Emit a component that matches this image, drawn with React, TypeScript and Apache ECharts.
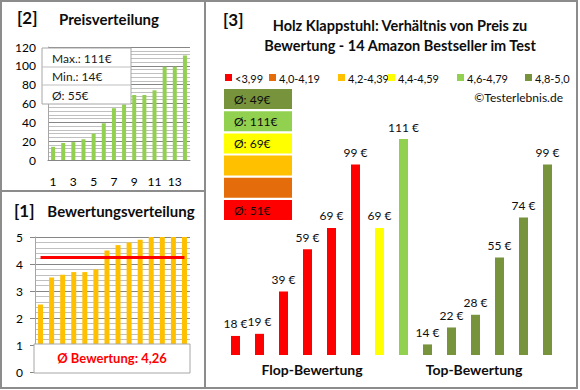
import { useEffect, useRef } from "react";
import * as echarts from "echarts";

// ---- data ----
const priceCategories = ["1", "2", "3", "4", "5", "6", "7", "8", "9", "10", "11", "12", "13", "14"];
const pricesSorted = [14, 18, 19, 22, 28, 39, 55, 59, 69, 69, 74, 99, 99, 111];
const ratingsSorted = [2.5, 3.5, 3.6, 3.7, 3.7, 3.8, 4.5, 4.7, 4.8, 4.9, 5.0, 5.0, 5.0, 5.0];
const mainCategories = ["P1", "P2", "P3", "P4", "P5", "P6", "P7", "P8", "P9", "P10", "P11", "P12", "P13", "P14"];
const mainPrices = [18, 19, 39, 59, 69, 99, 69, 111, 14, 22, 28, 55, 74, 99];
const mainRatings = [2.5, 3.5, 3.6, 3.7, 3.7, 3.8, 4.5, 4.7, 4.8, 4.9, 5.0, 5.0, 5.0, 5.0];
const groupLabels = ["Flop-Bewertung", "Top-Bewertung"];
const bucketLabels = ["<3,99", "4,0-4,19", "4,2-4,39", "4,4-4,59", "4,6-4,79", "4,8-5,0"];
const bucketMins = [0, 4.0, 4.2, 4.4, 4.6, 4.8];
const titleMain = ["Holz Klappstuhl: Verhältnis von Preis zu", "Bewertung - 14 Amazon Bestseller im Test"];

// ---- styles ----
const bucketColors = ["#FF0000", "#E46C0A", "#FFC000", "#FFFF00", "#92D050", "#77933C"];
const FONT = "Lato";

function bucketOf(r: number) {
  let idx = 0;
  for (let i = 0; i < bucketMins.length; i++) if (r >= bucketMins[i]) idx = i;
  return idx;
}

export default function App() {
  const ref = useRef<HTMLDivElement>(null);
  useEffect(() => {
    if (!ref.current) return;
    const chart = echarts.init(ref.current, undefined, { renderer: "svg" });

    const maxP = Math.max(...pricesSorted);
    const minP = Math.min(...pricesSorted);
    const avgP = Math.round(pricesSorted.reduce((a, b) => a + b, 0) / pricesSorted.length);
    const avgR = ratingsSorted.reduce((a, b) => a + b, 0) / ratingsSorted.length;
    const avgRText = avgR.toFixed(2).replace(".", ",");

    // bucket averages
    const bucketSums = bucketLabels.map(() => 0);
    const bucketCounts = bucketLabels.map(() => 0);
    mainRatings.forEach((r, i) => {
      const b = bucketOf(r);
      bucketSums[b] += mainPrices[i];
      bucketCounts[b] += 1;
    });

    const graphics: any[] = [];
    // frame
    graphics.push({ type: "rect", shape: { x: 1, y: 1, width: 576, height: 387 }, style: { fill: "none", stroke: "#8c8c8c", lineWidth: 2 }, z: 200 });
    graphics.push({ type: "line", shape: { x1: 205, y1: 1, x2: 205, y2: 388 }, style: { stroke: "#8c8c8c", lineWidth: 2 }, z: 200 });
    graphics.push({ type: "line", shape: { x1: 1, y1: 191, x2: 205, y2: 191 }, style: { stroke: "#8c8c8c", lineWidth: 2 }, z: 200 });

    // titles
    const titleText = (x: number, y: number, text: string, size: number, align = "left") => ({
      type: "text", x, y, z: 150,
      style: { text, fontFamily: FONT, fontWeight: "bold", fontSize: size, fill: "#0d0d0d", align, verticalAlign: "middle" },
    });
    graphics.push(titleText(17, 17, "[2]", 17));
    graphics.push(titleText(109, 19, "Preisverteilung", 15, "center"));
    graphics.push(titleText(14, 210, "[1]", 17));
    graphics.push(titleText(121, 211, "Bewertungsverteilung", 15, "center"));
    graphics.push(titleText(223, 19, "[3]", 17));
    graphics.push(titleText(400, 25, titleMain[0], 14.5, "center"));
    graphics.push(titleText(400, 45, titleMain[1], 14.5, "center"));

    // price info box
    graphics.push({ type: "rect", z: 150, shape: { x: 42, y: 48, width: 89, height: 56 }, style: { fill: "#fff", stroke: "#a6a6a6", lineWidth: 1 } });
    graphics.push({ type: "line", z: 151, shape: { x1: 42, y1: 67, x2: 131, y2: 67 }, style: { stroke: "#bfbfbf", lineWidth: 1 } });
    graphics.push({ type: "line", z: 151, shape: { x1: 42, y1: 85, x2: 131, y2: 85 }, style: { stroke: "#bfbfbf", lineWidth: 1 } });
    const boxTexts = [`Max.: ${maxP}€`, `Min.: ${minP}€`, `Ø: ${avgP}€`];
    boxTexts.forEach((t, i) => {
      graphics.push({ type: "text", z: 152, x: 52, y: 58 + i * 18.5, style: { text: t, fontFamily: FONT, fontSize: 12, fill: "#1a1a1a", verticalAlign: "middle" } });
    });

    // rating avg box
    graphics.push({ type: "rect", z: 150, shape: { x: 34, y: 344, width: 156, height: 29 }, style: { fill: "#fff", stroke: "#a6a6a6", lineWidth: 1 } });
    graphics.push({ type: "text", z: 152, x: 112, y: 358, style: { text: `Ø Bewertung: ${avgRText}`, fontFamily: FONT, fontSize: 13, fontWeight: "bold", fill: "#FF0000", align: "center", verticalAlign: "middle" } });

    // legend
    const legendX = [225, 269, 338, 388, 457, 525];
    bucketLabels.forEach((l, i) => {
      graphics.push({ type: "rect", z: 150, shape: { x: legendX[i], y: 74, width: 7, height: 7 }, style: { fill: bucketColors[i] } });
      graphics.push({ type: "text", z: 150, x: legendX[i] + 10, y: 78, style: { text: l, fontFamily: FONT, fontSize: 11, fill: "#0d0d0d", verticalAlign: "middle" } });
    });
    graphics.push({ type: "text", z: 150, x: 563, y: 97, style: { text: "©Testerlebnis.de", fontFamily: FONT, fontSize: 12, fill: "#0d0d0d", align: "right", verticalAlign: "middle" } });

    // bucket avg boxes (top: best bucket)
    for (let k = 0; k < bucketLabels.length; k++) {
      const b = bucketLabels.length - 1 - k;
      const y = 89 + k * 22.2;
      graphics.push({ type: "rect", z: 150, shape: { x: 224, y, width: 68, height: 20 }, style: { fill: bucketColors[b] } });
      if (bucketCounts[b] > 0) {
        const avg = Math.round(bucketSums[b] / bucketCounts[b]);
        graphics.push({ type: "text", z: 151, x: 234, y: y + 10, style: { text: `Ø: ${avg}€`, fontFamily: FONT, fontSize: 12, fill: "#0d0d0d", verticalAlign: "middle" } });
      }
    }

    // group labels
    graphics.push(titleText(312, 369, groupLabels[0], 14, "center"));
    graphics.push(titleText(474, 369, groupLabels[1], 14, "center"));

    const option: any = {
      animation: false,
      backgroundColor: "#ffffff",
      textStyle: { fontFamily: FONT },
      grid: [
        { left: 48, top: 47, width: 142, height: 113, outerBoundsMode: "none" },
        { left: 35, top: 237, width: 155, height: 135, outerBoundsMode: "none" },
        { left: 223.5, top: 120, width: 336, height: 235, outerBoundsMode: "none" },
      ],
      xAxis: [
        {
          type: "category", gridIndex: 0, data: priceCategories,
          axisLine: { lineStyle: { color: "#868686" } },
          axisTick: { show: false },
          axisLabel: { interval: 1, color: "#000", fontSize: 12, fontFamily: FONT, margin: 15 },
        },
        {
          type: "category", gridIndex: 1, data: priceCategories,
          axisLine: { show: false }, axisTick: { show: false }, axisLabel: { show: false },
        },
        {
          type: "category", gridIndex: 2, data: mainCategories,
          axisLine: { show: false }, axisTick: { show: false }, axisLabel: { show: false },
        },
      ],
      yAxis: [
        {
          type: "value", gridIndex: 0, min: 0, max: 120, interval: 20,
          axisLine: { show: true, lineStyle: { color: "#a6a6a6" } },
          axisTick: { show: false },
          axisLabel: { color: "#000", fontSize: 12, fontFamily: FONT, margin: 12 },
          splitLine: { lineStyle: { color: "#868686", width: 1 } },
          minorTick: { show: false, splitNumber: 5 },
          minorSplitLine: { show: true, lineStyle: { color: "#c0c0c0", width: 1 } },
        },
        {
          type: "value", gridIndex: 1, min: 0, max: 5, interval: 1,
          axisLine: { show: true, lineStyle: { color: "#a6a6a6" } },
          axisTick: { show: true, length: 5, lineStyle: { color: "#868686" } },
          axisLabel: { color: "#000", fontSize: 12, fontFamily: FONT, margin: 12 },
          splitLine: { lineStyle: { color: "#868686", width: 1 } },
          minorTick: { show: false, splitNumber: 5 },
          minorSplitLine: { show: true, lineStyle: { color: "#c0c0c0", width: 1 } },
        },
        {
          type: "value", gridIndex: 2, min: 9, max: 120,
          show: false, splitLine: { show: false },
        },
      ],
      series: [
        {
          type: "bar", xAxisIndex: 0, yAxisIndex: 0, data: pricesSorted,
          barWidth: 4, itemStyle: { color: "#92D050" },
        },
        {
          type: "bar", xAxisIndex: 1, yAxisIndex: 1, data: ratingsSorted,
          barWidth: 5, itemStyle: { color: "#FFC000" },
          markLine: {
            silent: true, symbol: "none", label: { show: false },
            lineStyle: { color: "#FF0000", width: 3, type: "solid" },
            data: [[{ coord: [0, avgR] }, { coord: [ratingsSorted.length - 1, avgR] }]],
          },
        },
        {
          type: "bar", xAxisIndex: 2, yAxisIndex: 2,
          data: mainPrices.map((v, i) => ({ value: v, itemStyle: { color: bucketColors[bucketOf(mainRatings[i])] } })),
          barWidth: 9,
          label: {
            show: true, position: "top", distance: 6, formatter: (p: any) => `${p.value} €`,
            color: "#0d0d0d", fontSize: 12, fontFamily: FONT,
          },
        },
      ],
      graphic: graphics,
    };
    chart.setOption(option);
    return () => chart.dispose();
  }, []);
  return <div ref={ref} style={{ position: "fixed", left: 0, top: 0, width: 580, height: 390 }} />;
}
